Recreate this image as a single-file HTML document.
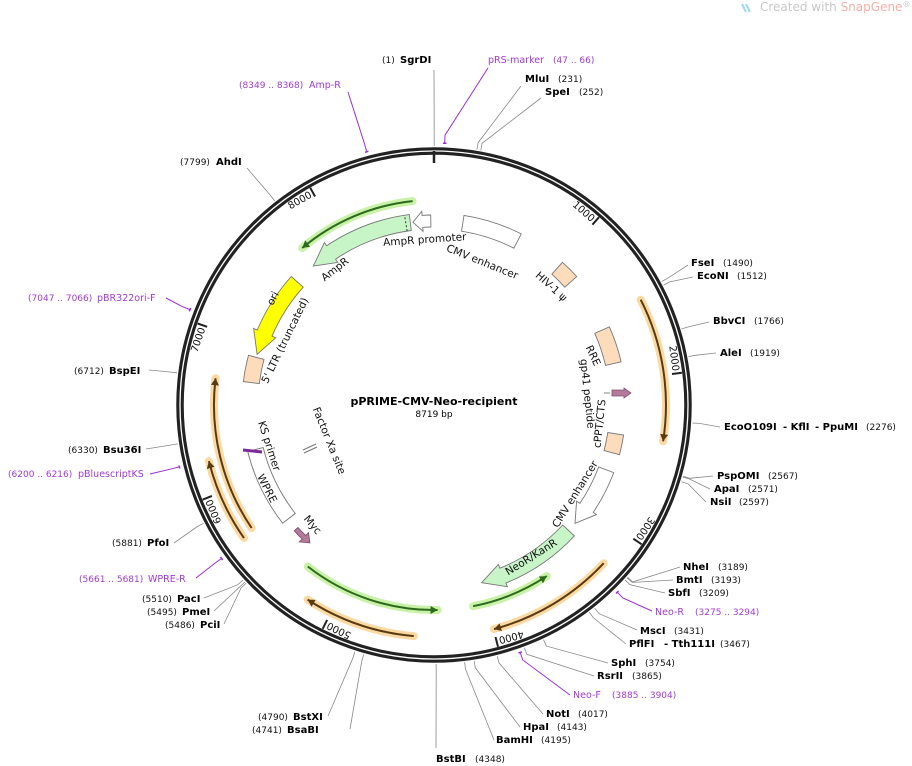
<!DOCTYPE html>
<html><head><meta charset="utf-8"><style>
html,body{margin:0;padding:0;background:#fff;}
svg{display:block;font-family:"DejaVu Sans","Liberation Sans",sans-serif;}
.b{font-weight:bold;font-size:10px;fill:#000}
.n{font-size:9px;fill:#111}
.p{font-size:9.5px;fill:#a03ad0}
.pn{font-size:9px;fill:#a03ad0}
.f{font-size:10.5px;fill:#111}
</style></head><body>
<svg id="s" width="912" height="766" viewBox="0 0 912 766" xmlns="http://www.w3.org/2000/svg">
<text x="760" y="11" font-size="12" fill="#c8c8c8">Created with <tspan fill="#f3b0a8">SnapGene</tspan><tspan font-size="8" dy="-4">®</tspan></text>
<path d="M742 4 l4 8 M746 4 l4 8" stroke="#9fd8f0" stroke-width="2"/>
<g id="g"></g>
<!-- center -->
<text x="434" y="405" text-anchor="middle" font-weight="bold" font-size="11">pPRIME-CMV-Neo-recipient</text>
<text x="434" y="417" text-anchor="middle" font-size="9">8719 bp</text>
<!-- small features drawn by hand -->
<path d="M612 390 L624 390 L624 388 L631 393 L624 398 L624 396 L612 396 Z" fill="#b37a9c" stroke="#805070" stroke-width="0.8"/>
<line x1="604" y1="393" x2="610" y2="393" stroke="#666" stroke-width="0.8"/>
<line x1="243" y1="450" x2="262" y2="452" stroke="#7a2a9a" stroke-width="3"/>
<path d="M303 450 L316 444 M304 453 L317 447" stroke="#777" stroke-width="1.2"/>
<!-- feature labels -->
<text class="f" transform="translate(425,243) rotate(-4)" text-anchor="middle">AmpR promoter</text>
<text class="f" transform="translate(481,265) rotate(22)" text-anchor="middle">CMV enhancer</text>
<text class="f" transform="translate(337,272) rotate(-38)" text-anchor="middle">AmpR</text>
<text class="f" font-size="10" transform="translate(276,300) rotate(-62)" text-anchor="middle">ori</text>
<text class="f" transform="translate(288,342) rotate(-64)" text-anchor="middle">5' LTR (truncated)</text>
<text class="f" transform="translate(549,289) rotate(42)" text-anchor="middle">HIV-1 ψ</text>
<text class="f" transform="translate(590,357) rotate(65)" text-anchor="middle">RRE</text>
<text class="f" transform="translate(584,394) rotate(84)" text-anchor="middle">gp41 peptide</text>
<text class="f" transform="translate(603,424) rotate(-84)" text-anchor="middle">cPPT/CTS</text>
<text class="f" transform="translate(578,496) rotate(-58)" text-anchor="middle">CMV enhancer</text>
<text class="f" font-size="10" transform="translate(533,560) rotate(-32)" text-anchor="middle">NeoR/KanR</text>
<text class="f" transform="translate(310,527) rotate(50)" text-anchor="middle">Myc</text>
<text class="f" transform="translate(264,490) rotate(63)" text-anchor="middle">WPRE</text>
<text class="f" transform="translate(266,447) rotate(72)" text-anchor="middle">KS primer</text>
<text class="f" transform="translate(326,442) rotate(68)" text-anchor="middle">Factor Xa site</text>
<!-- site labels -->
<text y="63"><tspan class="n" x="382">(1)</tspan><tspan class="b" x="400">SgrDI</tspan></text>
<text y="63" class="p" x="488">pRS-marker <tspan class="pn" dx="6">(47 .. 66)</tspan></text>
<text y="82"><tspan class="b" x="525">MluI</tspan><tspan class="n" x="558">(231)</tspan></text>
<text y="95"><tspan class="b" x="545">SpeI</tspan><tspan class="n" x="579">(252)</tspan></text>
<text y="88"><tspan class="pn" x="239">(8349 .. 8368)</tspan><tspan class="p" x="309">Amp-R</tspan></text>
<text y="165"><tspan class="n" x="180">(7799)</tspan><tspan class="b" x="216">AhdI</tspan></text>
<text y="266"><tspan class="b" x="691">FseI</tspan><tspan class="n" x="723">(1490)</tspan></text>
<text y="279"><tspan class="b" x="697">EcoNI</tspan><tspan class="n" x="737">(1512)</tspan></text>
<text y="324"><tspan class="b" x="713">BbvCI</tspan><tspan class="n" x="754">(1766)</tspan></text>
<text y="356"><tspan class="b" x="720">AleI</tspan><tspan class="n" x="750">(1919)</tspan></text>
<text y="430"><tspan class="b" x="724">EcoO109I</tspan><tspan class="b" x="783">- KflI</tspan><tspan class="b" x="815">- PpuMI</tspan><tspan class="n" x="866">(2276)</tspan></text>
<text y="479"><tspan class="b" x="717">PspOMI</tspan><tspan class="n" x="768">(2567)</tspan></text>
<text y="492"><tspan class="b" x="714">ApaI</tspan><tspan class="n" x="748">(2571)</tspan></text>
<text y="505"><tspan class="b" x="710">NsiI</tspan><tspan class="n" x="739">(2597)</tspan></text>
<text y="570"><tspan class="b" x="683">NheI</tspan><tspan class="n" x="718">(3189)</tspan></text>
<text y="583"><tspan class="b" x="676">BmtI</tspan><tspan class="n" x="711">(3193)</tspan></text>
<text y="596"><tspan class="b" x="668">SbfI</tspan><tspan class="n" x="699">(3209)</tspan></text>
<text y="615"><tspan class="p" x="655">Neo-R</tspan><tspan class="pn" x="695">(3275 .. 3294)</tspan></text>
<text y="634"><tspan class="b" x="640">MscI</tspan><tspan class="n" x="674">(3431)</tspan></text>
<text y="647"><tspan class="b" x="629">PflFI</tspan><tspan class="b" x="664">- Tth111I</tspan><tspan class="n" x="720">(3467)</tspan></text>
<text y="666"><tspan class="b" x="611">SphI</tspan><tspan class="n" x="645">(3754)</tspan></text>
<text y="679"><tspan class="b" x="597">RsrII</tspan><tspan class="n" x="632">(3865)</tspan></text>
<text y="698"><tspan class="p" x="573">Neo-F</tspan><tspan class="pn" x="612">(3885 .. 3904)</tspan></text>
<text y="717"><tspan class="b" x="546">NotI</tspan><tspan class="n" x="578">(4017)</tspan></text>
<text y="730"><tspan class="b" x="523">HpaI</tspan><tspan class="n" x="557">(4143)</tspan></text>
<text y="743"><tspan class="b" x="496">BamHI</tspan><tspan class="n" x="541">(4195)</tspan></text>
<text y="762"><tspan class="b" x="436">BstBI</tspan><tspan class="n" x="475">(4348)</tspan></text>
<text y="720"><tspan class="n" x="258">(4790)</tspan><tspan class="b" x="293">BstXI</tspan></text>
<text y="733"><tspan class="n" x="252">(4741)</tspan><tspan class="b" x="287">BsaBI</tspan></text>
<text y="602"><tspan class="n" x="142">(5510)</tspan><tspan class="b" x="177">PacI</tspan></text>
<text y="615"><tspan class="n" x="147">(5495)</tspan><tspan class="b" x="182">PmeI</tspan></text>
<text y="628"><tspan class="n" x="165">(5486)</tspan><tspan class="b" x="200">PciI</tspan></text>
<text y="582"><tspan class="pn" x="79">(5661 .. 5681)</tspan><tspan class="p" x="148">WPRE-R</tspan></text>
<text y="546"><tspan class="n" x="112">(5881)</tspan><tspan class="b" x="147">PfoI</tspan></text>
<text y="477"><tspan class="pn" x="8">(6200 .. 6216)</tspan><tspan class="p" x="78">pBluescriptKS</tspan></text>
<text y="453"><tspan class="n" x="68">(6330)</tspan><tspan class="b" x="103">Bsu36I</tspan></text>
<text y="374"><tspan class="n" x="74">(6712)</tspan><tspan class="b" x="109">BspEI</tspan></text>
<text y="301"><tspan class="pn" x="28">(7047 .. 7066)</tspan><tspan class="p" x="97">pBR322ori-F</tspan></text>
</svg>
<script>
var cx=434,cy=405,N=8719,NS="http://www.w3.org/2000/svg",G=document.getElementById('g');
function P(a,r){var t=a*Math.PI/180;return [cx+r*Math.sin(t),cy-r*Math.cos(t)];}
function S(p){return p[0].toFixed(1)+' '+p[1].toFixed(1);}
function el(n,at){var e=document.createElementNS(NS,n);for(var k in at)e.setAttribute(k,at[k]);G.appendChild(e);return e;}
function A(a1,a2,r,cw){var l=Math.abs(a2-a1)>180?1:0;return ' A'+r+' '+r+' 0 '+l+' '+(cw?1:0)+' '+S(P(a2,r));}
function bp(b){return b/N*360;}
function feat(a1,a2,r1,r2,dir,fill,st,hd){var rm=(r1+r2)/2,w=4,d;hd=hd||(9/rm*57.3);
 if(dir==0){d='M'+S(P(a1,r2))+A(a1,a2,r2,1)+' L'+S(P(a2,r1))+A(a2,a1,r1,0)+'Z';}
 else if(dir==1){var b=a2-hd;d='M'+S(P(a1,r2))+A(a1,b,r2,1)+' L'+S(P(b,r2+w))+' L'+S(P(a2,rm))+' L'+S(P(b,r1-w))+' L'+S(P(b,r1))+A(b,a1,r1,0)+'Z';}
 else {var b=a1+hd;d='M'+S(P(b,r2))+A(b,a2,r2,1)+' L'+S(P(a2,r1))+A(a2,b,r1,0)+' L'+S(P(b,r1-w))+' L'+S(P(a1,rm))+' L'+S(P(b,r2+w))+'Z';}
 el('path',{d:d,fill:fill,stroke:st||'#777','stroke-width':0.9});}
function orf(a1,a2,r,dir,glow,dark){var d='M'+S(P(a1,r))+A(a1,a2,r,1);
 el('path',{d:d,fill:'none',stroke:glow,'stroke-width':8,'stroke-linecap':'round'});
 el('path',{d:d,fill:'none',stroke:dark,'stroke-width':2});
 var tip=dir>0?a2:a1,bk=dir>0?a2-7/r*57.3:a1+7/r*57.3;
 el('path',{d:'M'+S(P(tip,r))+' L'+S(P(bk,r+4))+' L'+S(P(bk,r-4))+'Z',fill:dark});}
var og='#fbd9a3',od='#5a3a10',gg='#c8f2a8',gd='#2d6a1c';
orf(63,99,232,1,og,od);orf(133,165,232,1,og,od);orf(185,213,232,1,og,od);
orf(236,277,220,1,og,od);orf(235,256,232,1,og,od);
orf(320,354,205,-1,gg,gd);orf(179,218,205,-1,gg,gd);orf(146.6,169,205,-1,gg,gd);
var pe='#fddcbc';
feat(319,352.6,176,192,-1,'#c8f5c8','#777',7);
el('path',{d:'M'+S(P(351.2,176))+' L'+S(P(351.2,192)),stroke:'#333','stroke-dasharray':'2 2','stroke-width':1});
feat(353.4,359,178,190,-1,'#fff','#777',3);
feat(9,27,176,192,0,'#fff');
feat(42,48,176,192,0,pe);
feat(66,77,176,192,0,pe);
feat(99,105,176,192,0,pe);
feat(110.6,130,176,192,1,'#fff','#777',6);
feat(133,165,176,192,1,'#c8f5c8','#777',7);
feat(222,228,183,188,-1,'#b37a9c','#805070',2.5);
feat(232,256,176,192,0,'#fff');
feat(277,285,176,192,0,pe);
feat(286,312,176,192,-1,'#ffff00','#777',7);
var sites=[[1,434,70],[231,521,86],[252,541,98],[7799,247,168],[1490,688,265],[1512,693,277],[1766,709,322],[1919,716,353],[2276,720,427],[2567,713,476],[2571,710,489],[2597,706,502],[3189,680,567],[3193,673,580],[3209,665,593],[3431,637,630],[3467,626,644],[3754,608,663],[3865,594,676],[4017,543,714],[4143,520,727],[4195,494,740],[4348,436,748],[4790,328,716],[4741,350,729],[5510,204,598],[5495,214,611],[5486,224,624],[5881,174,543],[6330,146,449],[6712,149,370]];
sites.forEach(function(s){var a=bp(s[0]),p1=P(a,259),p2=P(a,266);el('path',{d:'M'+S(p1)+' L'+S(p2)+' L'+s[1]+' '+s[2],fill:'none',stroke:'#888','stroke-width':0.8});});
var prim=[[47,66,488,68],[8349,8368,348,92],[7047,7066,166,298],[6200,6216,150,474],[5661,5681,196,578],[3275,3294,652,611],[3885,3904,570,695]];
prim.forEach(function(s){var a1=bp(s[0]),a2=bp(s[1]),m=(a1+a2)/2;
 el('path',{d:'M'+s[2]+' '+s[3]+' L'+S(P(m,270))+' L'+S(P(m,262)),fill:'none',stroke:'#9a2ecf','stroke-width':1});
 el('path',{d:'M'+S(P(a1,262))+A(a1,a2,262,1),fill:'none',stroke:'#9a2ecf','stroke-width':1.5});});
el('circle',{cx:cx,cy:cy,r:254,fill:'none',stroke:'#222','stroke-width':7.5});
el('circle',{cx:cx,cy:cy,r:254,fill:'none',stroke:'#fff','stroke-width':1.3});
el('path',{d:'M434 151 L434 163',stroke:'#222','stroke-width':2.5});
for(var k=1;k<=8;k++){var a=bp(k*1000);el('path',{d:'M'+S(P(a,250))+' L'+S(P(a,240)),stroke:'#222','stroke-width':2});
 var top=(a<90||a>270),t=el('text',{'font-size':10,fill:'#111'});
 t.textContent=k*1000;
 if(top){t.setAttribute('text-anchor','end');t.setAttribute('transform','translate('+S(P(a-0.6,241)).replace(' ',',')+') rotate('+a+')');}
 else{t.setAttribute('text-anchor','start');t.setAttribute('transform','translate('+S(P(a+0.6,247)).replace(' ',',')+') rotate('+(a-180)+')');}
}
</script>
</body></html>
